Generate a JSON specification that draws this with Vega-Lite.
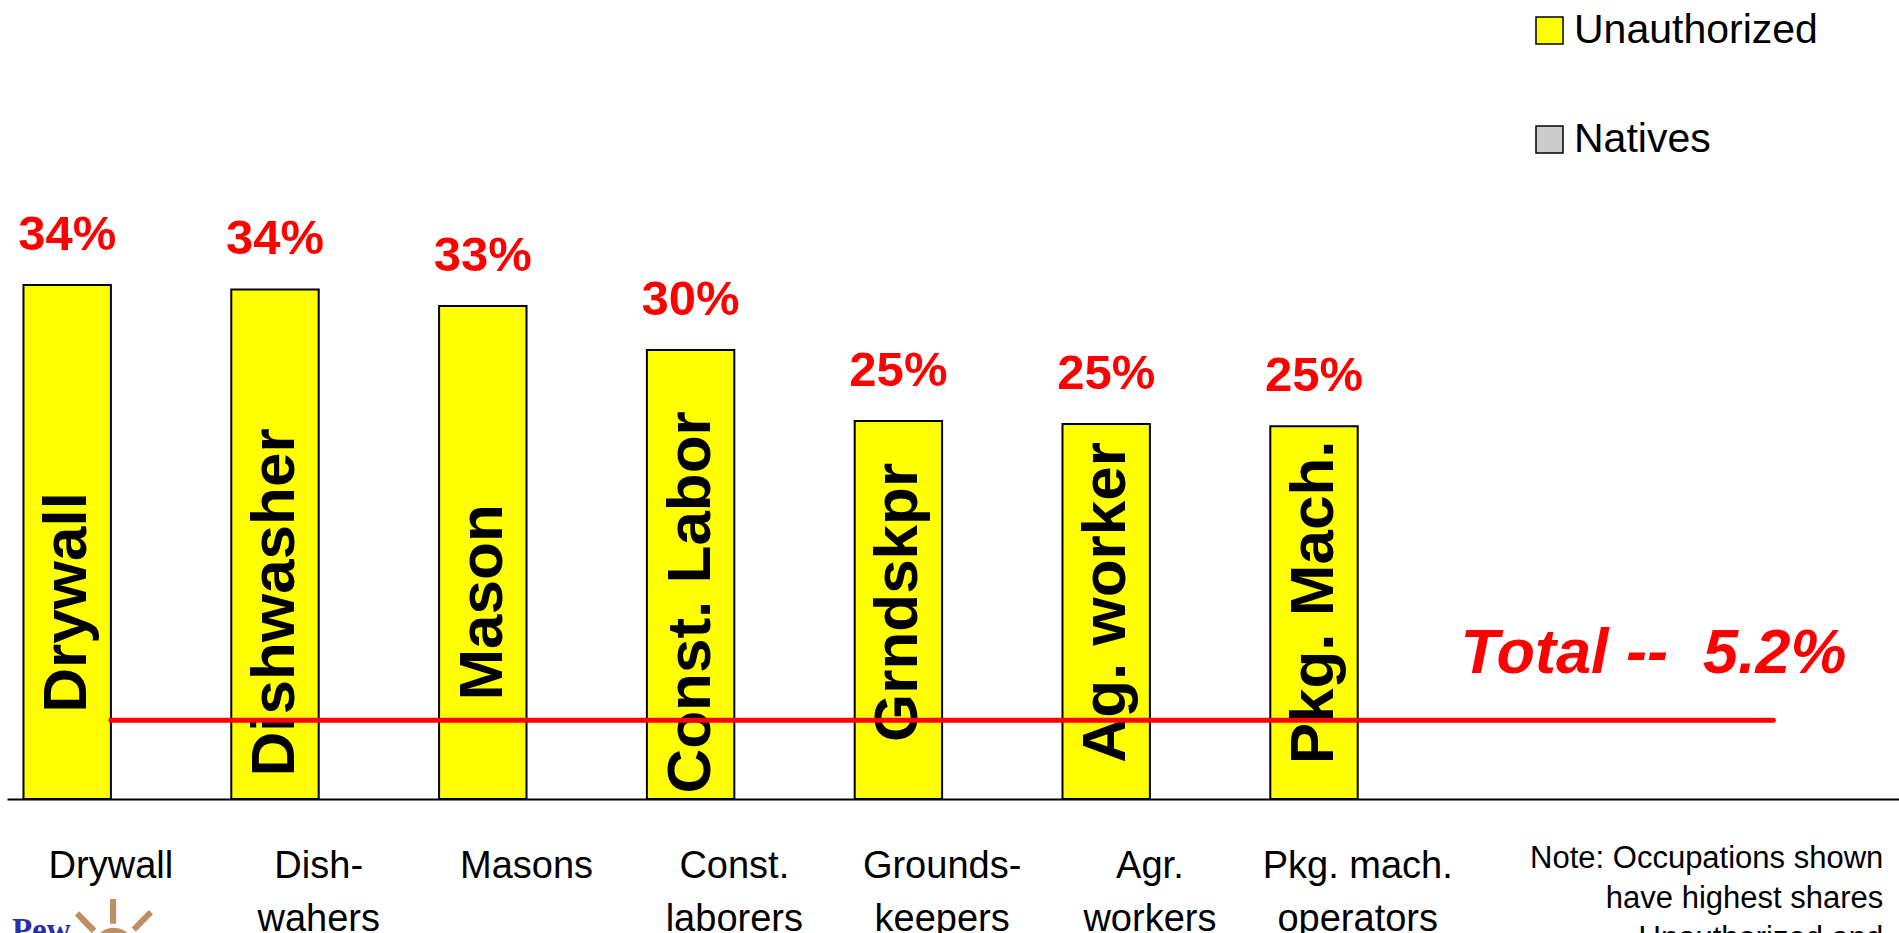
{
  "$schema": "https://vega.github.io/schema/vega-lite/v6.json",
  "autosize": {"type": "none"},
  "width": 1892,
  "height": 799,
  "padding": {"left": 7, "top": 0, "right": 0, "bottom": 134},
  "background": "white",
  "config": {"view": {"stroke": null}},
  "data": {
    "values": [
      {"occupation": "Drywall", "inner": "Drywall", "series": "Unauthorized", "share": 34.0, "label": "34%"},
      {"occupation": "Dish-|wahers", "inner": "Dishwasher", "series": "Unauthorized", "share": 33.7, "label": "34%"},
      {"occupation": "Masons", "inner": "Mason", "series": "Unauthorized", "share": 32.6, "label": "33%"},
      {"occupation": "Const.|laborers", "inner": "Const. Labor", "series": "Unauthorized", "share": 29.7, "label": "30%"},
      {"occupation": "Grounds-|keepers", "inner": "Grndskpr", "series": "Unauthorized", "share": 25.0, "label": "25%"},
      {"occupation": "Agr.|workers", "inner": "Ag. worker", "series": "Unauthorized", "share": 24.8, "label": "25%"},
      {"occupation": "Pkg. mach.|operators", "inner": "Pkg. Mach.", "series": "Unauthorized", "share": 24.65, "label": "25%"}
    ]
  },
  "encoding": {
    "x": {
      "field": "occupation",
      "type": "nominal",
      "sort": null,
      "scale": {
        "domain": ["Drywall", "Dish-|wahers", "Masons", "Const.|laborers", "Grounds-|keepers", "Agr.|workers", "Pkg. mach.|operators", "blank1", "blank2"],
        "paddingInner": 0,
        "paddingOuter": 0.0524,
        "align": 0
      },
      "axis": {
        "title": null,
        "labelExpr": "indexof(datum.label, 'blank') == 0 ? '' : split(datum.label, '|')",
        "labelAngle": 0,
        "labelFont": "Liberation Sans",
        "labelFontSize": 38,
        "labelColor": "black",
        "labelLineHeight": 53,
        "labelBaseline": "top",
        "labelPadding": 48,
        "labelLimit": 0,
        "ticks": false,
        "tickSize": 0,
        "domainColor": "black",
        "domainWidth": 2,
        "grid": false,
        "labelOverlap": false,
        "labelBound": false,
        "labelFlush": false
      }
    },
    "y": {
      "field": "share",
      "type": "quantitative",
      "scale": {"domain": [0, 52.84], "nice": false, "zero": true},
      "axis": null
    }
  },
  "layer": [
    {
      "mark": {"type": "bar", "stroke": "black", "strokeWidth": 2},
      "encoding": {
        "xOffset": {
          "field": "series",
          "type": "nominal",
          "scale": {"domain": ["Unauthorized", "Natives"], "paddingInner": 0, "paddingOuter": 0.1886}
        },
        "color": {
          "field": "series",
          "type": "nominal",
          "scale": {"domain": ["Unauthorized", "Natives"], "range": ["#FFFF00", "#CCCCCC"]},
          "legend": {
            "title": null,
            "orient": "none",
            "legendX": 1522,
            "legendY": 10,
            "padding": 0,
            "symbolType": "square",
            "symbolSize": 729,
            "symbolStrokeColor": "black",
            "symbolStrokeWidth": 1.5,
            "symbolOpacity": 1,
            "labelFont": "Liberation Sans",
            "labelFontSize": 41,
            "labelColor": "black",
            "labelOffset": 4,
            "labelLimit": 0,
            "rowPadding": 67
          }
        }
      }
    },
    {
      "mark": {
        "type": "text",
        "font": "Liberation Sans",
        "fontSize": 49,
        "fontWeight": "bold",
        "color": "#FF0000",
        "align": "center",
        "baseline": "alphabetic",
        "dy": -35
      },
      "encoding": {
        "xOffset": {"field": "series", "type": "nominal"},
        "text": {"field": "label"}
      }
    },
    {
      "mark": {
        "type": "text",
        "font": "Liberation Sans",
        "fontSize": 62,
        "fontWeight": "bold",
        "color": "black",
        "angle": 270,
        "align": "center",
        "baseline": "middle"
      },
      "encoding": {
        "xOffset": {"field": "series", "type": "nominal"},
        "y": {"datum": 13},
        "text": {"field": "inner"}
      }
    },
    {
      "data": {"values": [{"total": 5.2}]},
      "mark": {"type": "rule", "color": "#FF0000", "strokeWidth": 5, "strokeCap": "round"},
      "encoding": {
        "x": {"datum": "Drywall"},
        "x2": {"datum": "blank2"},
        "y": {"field": "total", "type": "quantitative"}
      }
    },
    {
      "data": {"values": [{"occupation": "blank1", "total": 5.2, "note": "Total --\u00a0 5.2%"}]},
      "mark": {
        "type": "text",
        "font": "Liberation Sans",
        "fontSize": 63,
        "fontWeight": "bold",
        "fontStyle": "italic",
        "color": "#FF0000",
        "align": "center",
        "baseline": "alphabetic",
        "dx": 88,
        "dy": -47
      },
      "encoding": {
        "y": {"field": "total", "type": "quantitative"},
        "text": {"field": "note", "type": "nominal"}
      }
    },
    {
      "data": {"values": [{"occupation": "blank2", "share": 0, "note": ["Note: Occupations shown", "have highest shares", "Unauthorized and"]}]},
      "mark": {
        "type": "text",
        "font": "Liberation Sans",
        "fontSize": 31,
        "color": "black",
        "align": "right",
        "baseline": "alphabetic",
        "lineHeight": 40,
        "dx": 110,
        "dy": 69
      },
      "encoding": {
        "text": {"field": "note", "type": "nominal"}
      }
    },
    {
      "data": {"values": [{"occupation": "Drywall", "share": 0, "note": "\u2600"}]},
      "mark": {
        "type": "text",
        "font": "DejaVu Sans",
        "fontSize": 140,
        "color": "#BF8E62",
        "align": "center",
        "baseline": "middle",
        "dx": 2,
        "dy": 160
      },
      "encoding": {
        "text": {"field": "note", "type": "nominal"}
      }
    },
    {
      "data": {"values": [{"occupation": "Drywall", "share": 0, "note": "Pew"}]},
      "mark": {
        "type": "text",
        "font": "Liberation Serif",
        "fontSize": 33,
        "fontWeight": "bold",
        "color": "#2B2FA8",
        "align": "left",
        "baseline": "alphabetic",
        "dx": -99,
        "dy": 142
      },
      "encoding": {
        "text": {"field": "note", "type": "nominal"}
      }
    }
  ]
}
